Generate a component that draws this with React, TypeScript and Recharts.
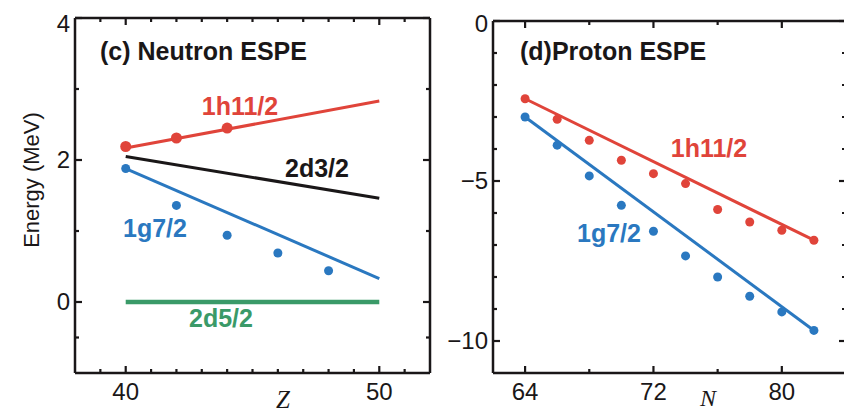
import { ComposedChart, Line, XAxis, YAxis } from 'recharts';

// Neutron ESPE vs Z
const NEUTRON_Z = [40, 42, 44, 46, 48];
const NEUTRON_H11_PTS = [2.19, 2.31, 2.45];
const NEUTRON_G7_PTS = [1.88, 1.36, 0.94, 0.69, 0.44];
const NEUTRON_LINE_Z = [40, 50];
const NEUTRON_H11_LINE = [2.17, 2.83];
const NEUTRON_D3_LINE = [2.05, 1.46];
const NEUTRON_G7_LINE = [1.88, 0.33];
const NEUTRON_D5_LINE = [0, 0];

// Proton ESPE vs N
const PROTON_N = [64, 66, 68, 70, 72, 74, 76, 78, 80, 82];
const PROTON_H11_PTS = [-2.43, -3.07, -3.73, -4.35, -4.77, -5.08, -5.89, -6.28, -6.54, -6.85];
const PROTON_G7_PTS = [-3.0, -3.88, -4.84, -5.76, -6.57, -7.34, -8.0, -8.6, -9.09, -9.67];
const PROTON_LINE_N = [64, 82];
const PROTON_H11_LINE = [-2.43, -6.85];
const PROTON_G7_LINE = [-3.0, -9.67];

// ticks
const Z_TICKS = [39, 40, 41, 42, 43, 44, 45, 46, 47, 48, 49, 50, 51];
const Z_LABELS = [40, 50];
const EN_TICKS = [-0.5, 0, 1, 2, 3, 4];
const EN_LABELS = [0, 2, 4];
const N_TICKS = [64, 68, 72, 76, 80];
const N_LABELS = [64, 72, 80];
const EP_TICKS = [-10, -9, -8, -7, -6, -5, -4, -3, -2, -1, 0];
const EP_LABELS = [0, -5, -10];

const RED = '#e0443a';
const BLUE = '#2a78c0';
const GREEN = '#3a9a68';
const INK = '#1a1718';
const SANS = '"Liberation Sans", Arial, sans-serif';
const SERIF = '"Liberation Serif", "Times New Roman", serif';

const pts = (xs: number[], ys: number[]) => ys.map((y, i) => ({ x: xs[i], y }));

const fmt = (v: number) => (v < 0 ? `\u2212${Math.abs(v)}` : String(v));

type Side = 'bottom' | 'top' | 'left' | 'right';

// ticks point into the frame; only the listed values get a number
function tickFor(side: Side, labels: number[]) {
  return (props: any) => {
    const { x, y, payload } = props;
    const v = payload.value as number;
    const major = labels.includes(v);
    const len = major ? 7 : 4;
    let x2 = x;
    let y2 = y;
    if (side === 'bottom') y2 = y - len;
    if (side === 'top') y2 = y + len;
    if (side === 'left') x2 = x + len;
    if (side === 'right') x2 = x - len;
    // keep the topmost number clear of the frame corner
    const ly = side === 'left' && y < 24 ? 24 : y;
    return (
      <g>
        <line x1={x} y1={y} x2={x2} y2={y2} stroke={INK} strokeWidth={2.2} />
        {major && side === 'bottom' && (
          <text x={x} y={y + 27} textAnchor="middle" fontFamily={SANS} fontSize={24} fill={INK}>
            {fmt(v)}
          </text>
        )}
        {major && side === 'left' && (
          <text x={x - 5} y={ly + 8} textAnchor="end" fontFamily={SANS} fontSize={24} fill={INK}>
            {fmt(v)}
          </text>
        )}
      </g>
    );
  };
}

const axisLine = { stroke: INK, strokeWidth: 2.5 };

// frame: bottom/left carry the numbers, top/right only mirror the ticks
function axes(
  xDomain: [number, number],
  yDomain: [number, number],
  xTicks: number[],
  xLabels: number[],
  yTicks: number[],
  yLabels: number[],
) {
  const common = {
    type: 'number' as const,
    allowDataOverflow: true,
    interval: 0 as const,
    tickSize: 0,
    tickMargin: 0,
    tickLine: false,
    axisLine,
  };
  return [
    <XAxis key="xb" xAxisId="b" dataKey="x" domain={xDomain} ticks={xTicks} height={1} {...common} tick={tickFor('bottom', xLabels)} />,
    <XAxis key="xt" xAxisId="t" orientation="top" dataKey="x" domain={xDomain} ticks={xTicks} height={1} {...common} tick={tickFor('top', xLabels)} />,
    <YAxis key="yl" yAxisId="l" domain={yDomain} ticks={yTicks} width={1} {...common} tick={tickFor('left', yLabels)} />,
    <YAxis key="yr" yAxisId="r" orientation="right" domain={yDomain} ticks={yTicks} width={1} {...common} tick={tickFor('right', yLabels)} />,
  ];
}

function fit(data: { x: number; y: number }[], color: string, width = 3) {
  return (
    <Line
      xAxisId="b"
      yAxisId="l"
      data={data}
      dataKey="y"
      stroke={color}
      strokeWidth={width}
      dot={false}
      activeDot={false}
      isAnimationActive={false}
    />
  );
}

function dots(data: { x: number; y: number }[], color: string, r = 5) {
  return (
    <Line
      xAxisId="b"
      yAxisId="l"
      data={data}
      dataKey="y"
      stroke="none"
      dot={{ r, fill: color, stroke: 'none' }}
      activeDot={false}
      isAnimationActive={false}
    />
  );
}

const label = (x: number, y: number, text: string, fill: string, anchor = 'middle') => (
  <text x={x} y={y} textAnchor={anchor} fontFamily={SANS} fontWeight="bold" fontSize={25} fill={fill}>
    {text}
  </text>
);

export default function App() {
  return (
    <div style={{ position: 'absolute', left: 0, top: 0, width: 844, height: 412, overflow: 'hidden', background: '#fff' }}>
      <div style={{ position: 'absolute', left: 0, top: 0 }}>
        <ComposedChart width={440} height={412} margin={{ top: 17, left: 74, right: 9, bottom: 38 }}>
          {axes([38, 52], [-1, 4], Z_TICKS, Z_LABELS, EN_TICKS, EN_LABELS)}
          {fit(pts(NEUTRON_LINE_Z, NEUTRON_D5_LINE), GREEN, 4.5)}
          {fit(pts(NEUTRON_LINE_Z, NEUTRON_D3_LINE), INK, 3)}
          {fit(pts(NEUTRON_LINE_Z, NEUTRON_G7_LINE), BLUE, 3)}
          {fit(pts(NEUTRON_LINE_Z, NEUTRON_H11_LINE), RED, 3)}
          {dots(pts(NEUTRON_Z, NEUTRON_G7_PTS), BLUE, 4.5)}
          {dots(pts(NEUTRON_Z, NEUTRON_H11_PTS), RED, 5.5)}
        </ComposedChart>
      </div>
      <div style={{ position: 'absolute', left: 420, top: 0 }}>
        <ComposedChart width={440} height={412} margin={{ top: 20, left: 72, right: 13, bottom: 38 }}>
          {axes([62, 84], [-11, 0], N_TICKS, N_LABELS, EP_TICKS, EP_LABELS)}
          {fit(pts(PROTON_LINE_N, PROTON_H11_LINE), RED, 3)}
          {fit(pts(PROTON_LINE_N, PROTON_G7_LINE), BLUE, 3)}
          {dots(pts(PROTON_N, PROTON_H11_PTS), RED, 4.5)}
          {dots(pts(PROTON_N, PROTON_G7_PTS), BLUE, 4.5)}
        </ComposedChart>
      </div>
      <svg width={844} height={412} style={{ position: 'absolute', left: 0, top: 0, pointerEvents: 'none' }}>
        {label(100, 60, '(c) Neutron ESPE', INK, 'start')}
        {label(240, 115, '1h11/2', RED)}
        {label(317, 177, '2d3/2', INK)}
        {label(155, 237, '1g7/2', BLUE)}
        {label(221, 327, '2d5/2', GREEN)}
        <text transform="translate(39,180) rotate(-90)" textAnchor="middle" fontFamily={SANS} fontSize={22} fill={INK}>
          Energy (MeV)
        </text>
        <text x={283} y={408} textAnchor="middle" fontFamily={SERIF} fontStyle="italic" fontSize={25} fill={INK}>
          Z
        </text>
        {label(520, 60, '(d)Proton ESPE', INK, 'start')}
        {label(709, 157, '1h11/2', RED)}
        {label(609, 242, '1g7/2', BLUE)}
        <text x={708} y={406} textAnchor="middle" fontFamily={SERIF} fontStyle="italic" fontSize={24} fill={INK}>
          N
        </text>
      </svg>
    </div>
  );
}
